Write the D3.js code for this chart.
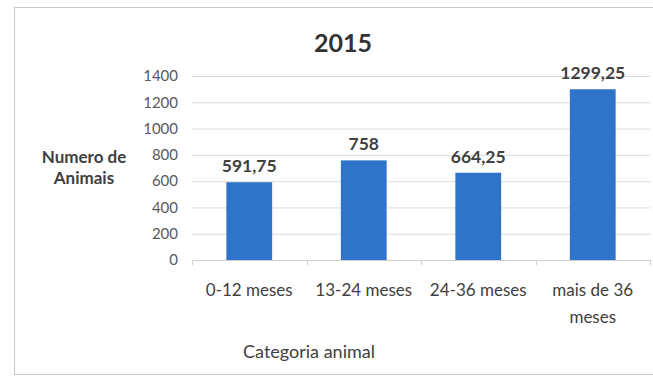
<!DOCTYPE html>
<html><head><meta charset="utf-8">
<script src="https://cdn.jsdelivr.net/npm/d3@7"></script>
<style>body{margin:0;background:#fff;}svg{display:block;font-family:Lato,"Open Sans",sans-serif;}</style>
</head><body>
<svg id="c" width="653" height="379"></svg>
<script>
const categories = [["0-12 meses"],["13-24 meses"],["24-36 meses"],["mais de 36","meses"]];
const values = [591.75, 758, 664.25, 1299.25];
const valueLabels = ["591,75","758","664,25","1299,25"];
const yTicks = [0,200,400,600,800,1000,1200,1400];
const title = "2015";
const yTitle = ["Numero de","Animais"];
const xTitle = "Categoria animal";

const svg = d3.select("#c");
svg.append("rect").attr("x",14.5).attr("y",7.5).attr("width",650).attr("height",367)
  .attr("fill","#fff").attr("stroke","#c8c8c8");

const x = d3.scaleBand().domain(d3.range(categories.length)).range([192,650]).paddingInner(0.6).paddingOuter(0.3);
const y = d3.scaleLinear().domain([0,1400]).range([260,76]);

const grid = svg.append("g");
grid.selectAll("line").data(yTicks.slice(1)).join("line")
  .attr("x1",192).attr("x2",650).attr("y1",d=>y(d)+0.5).attr("y2",d=>y(d)+0.5)
  .attr("stroke","#dcdcdc");

const yAxis = svg.append("g").attr("transform","translate(192,0)")
  .call(d3.axisLeft(y).tickValues(yTicks).tickFormat(d3.format("d")).tickSize(0).tickPadding(14));
yAxis.select(".domain").remove();
yAxis.selectAll("text").attr("font-size",15).attr("fill","#595959").attr("font-family","Lato");

svg.append("line").attr("x1",192).attr("x2",650).attr("y1",y(0)+0.5).attr("y2",y(0)+0.5).attr("stroke","#d0d0d0");
const bounds = d3.range(categories.length+1).map(i=>192+i*(458/categories.length));
svg.selectAll(".xt").data(bounds).join("line").attr("class","xt")
  .attr("x1",d=>Math.round(d)+0.5).attr("x2",d=>Math.round(d)+0.5).attr("y1",y(0)).attr("y2",y(0)+5).attr("stroke","#d0d0d0");

svg.selectAll(".bar").data(values).join("rect").attr("class","bar")
  .attr("x",(d,i)=>x(i)).attr("width",x.bandwidth())
  .attr("y",d=>y(d)).attr("height",d=>y(0)-y(d)).attr("fill","#2f74c8");

svg.selectAll(".vl").data(values).join("text").attr("class","vl")
  .attr("x",(d,i)=>x(i)+x.bandwidth()/2).attr("y",d=>y(d)-10)
  .attr("text-anchor","middle").attr("font-size",17.5).attr("font-weight","bold").attr("fill","#404040")
  .text((d,i)=>valueLabels[i]);

const cl = svg.selectAll(".cl").data(categories).join("text").attr("class","cl")
  .attr("x",(d,i)=>x(i)+x.bandwidth()/2).attr("y",296)
  .attr("text-anchor","middle").attr("font-size",17).attr("fill","#404040");
cl.selectAll("tspan").data(d=>d).join("tspan")
  .attr("x",function(){return this.parentNode.getAttribute("x");})
  .attr("dy",(d,i)=>i?27:0).text(d=>d);

svg.append("text").attr("x",343).attr("y",52).attr("text-anchor","middle")
  .attr("font-size",25).attr("font-weight","bold").attr("fill","#333").text(title);

svg.append("text").attr("x",84).attr("y",163).attr("text-anchor","middle")
  .attr("font-size",17).attr("font-weight","bold").attr("fill","#404040")
  .selectAll("tspan").data(yTitle).join("tspan").attr("x",84).attr("dy",(d,i)=>i?21:0).text(d=>d);

svg.append("text").attr("x",309).attr("y",358).attr("text-anchor","middle")
  .attr("font-size",18).attr("fill","#404040").text(xTitle);
</script>
</body></html>
